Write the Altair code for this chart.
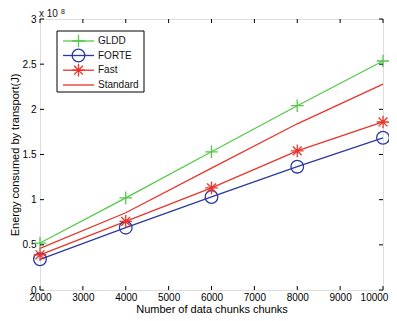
import altair as alt
import pandas as pd

# ---- data (energy in units of 1e8 J) ----
chunks = [2000, 4000, 6000, 8000, 10000]
gldd = [0.52, 1.02, 1.53, 2.04, 2.535]
forte = [0.34, 0.69, 1.03, 1.365, 1.685]
fast = [0.39, 0.76, 1.13, 1.54, 1.86]
standard = [0.46, 0.855, 1.35, 1.84, 2.28]

series_names = ["GLDD", "FORTE", "Fast", "Standard"]
series_colors = ["#55c84a", "#2b3a9e", "#e8342b", "#e8342b"]
x_ticks = [2000, 3000, 4000, 5000, 6000, 7000, 8000, 9000, 10000]
y_ticks = [0, 0.5, 1, 1.5, 2, 2.5, 3]

W, H = 343, 271
FONT = "Liberation Sans"

rows = []
for name, vals in zip(series_names, [gldd, forte, fast, standard]):
    for xv, yv in zip(chunks, vals):
        rows.append({"series": name, "chunks": xv, "energy": yv})
df = pd.DataFrame(rows)

xscale = alt.Scale(domain=[2000, 10000], nice=False, zero=False)
yscale = alt.Scale(domain=[0, 3], nice=False)
cscale = alt.Scale(domain=series_names, range=series_colors)

X = alt.X("chunks:Q", scale=xscale,
          axis=alt.Axis(values=x_ticks, format="d", ticks=False, domain=False, grid=False,
                        labelFlush=False, labelPadding=2,
                        labelOffset={"condition": {"test": "datum.value === 10000", "value": -9}, "value": 0},
                        title="Number of data chunks chunks", titleFontWeight="normal",
                        titleBaseline="alphabetic", titleY=22))
Y = alt.Y("energy:Q", scale=yscale,
          axis=alt.Axis(values=y_ticks, format="~g", ticks=False, domain=False, grid=False,
                        labelPadding=4, title="Energy consumed by transport(J)",
                        titleFontWeight="normal", titlePadding=2))

lines = alt.Chart(df).mark_line(strokeWidth=1.3).encode(
    x=X, y=Y, color=alt.Color("series:N", scale=cscale, legend=None), detail="series:N"
)

marker_paths = {
    "GLDD": "M-1,0H1M0,-1V1",
    "FORTE": "circle",
    "Fast": "M-1,0H1M0,-1V1M-0.7,-0.7L0.7,0.7M-0.7,0.7L0.7,-0.7",
}
mk_names = list(marker_paths.keys())
points = alt.Chart(df).transform_filter(
    alt.FieldOneOfPredicate(field="series", oneOf=mk_names)
).mark_point(filled=False, strokeWidth=1.3, size=160, opacity=1).encode(
    x=alt.X("chunks:Q", scale=xscale),
    y=alt.Y("energy:Q", scale=yscale),
    color=alt.Color("series:N", scale=cscale, legend=None),
    shape=alt.Shape("series:N", scale=alt.Scale(domain=mk_names, range=[marker_paths[n] for n in mk_names]),
                    legend=None),
)

# inward ticks (MATLAB style box)
xt = pd.DataFrame({"t": x_ticks})
yt = pd.DataFrame({"t": y_ticks})
tick_x_bottom = alt.Chart(xt).mark_rule(color="#000", strokeWidth=1).encode(
    x=alt.X("t:Q", scale=xscale), y=alt.value(H), y2=alt.value(H - 4))
tick_x_top = alt.Chart(xt).mark_rule(color="#000", strokeWidth=1).encode(
    x=alt.X("t:Q", scale=xscale), y=alt.value(0), y2=alt.value(4))
tick_y_left = alt.Chart(yt).mark_rule(color="#000", strokeWidth=1).encode(
    y=alt.Y("t:Q", scale=yscale), x=alt.value(0), x2=alt.value(4))
tick_y_right = alt.Chart(yt).mark_rule(color="#000", strokeWidth=1).encode(
    y=alt.Y("t:Q", scale=yscale), x=alt.value(W - 4), x2=alt.value(W))

# exponent label
exp_base = alt.Chart(pd.DataFrame({"s": ["x 10"]})).mark_text(
    font=FONT, fontSize=10, align="left", baseline="middle", color="#111").encode(
    text="s:N", x=alt.value(-1), y=alt.value(-5))
exp_pow = alt.Chart(pd.DataFrame({"s": ["8"]})).mark_text(
    font=FONT, fontSize=7, align="left", baseline="top", color="#111").encode(
    text="s:N", x=alt.value(21), y=alt.value(-11))

# legend (drawn manually to reproduce line+marker samples)
leg_box = alt.Chart(pd.DataFrame({"a": [0]})).mark_rect(
    fill="white", stroke="#000", strokeWidth=1).encode(
    x=alt.value(17), x2=alt.value(104), y=alt.value(12), y2=alt.value(73))
leg_y = [22, 36.5, 51.2, 66]
leg_layers = [leg_box]
for i, name in enumerate(series_names):
    col = series_colors[i]
    d = pd.DataFrame({"name": [name]})
    leg_layers.append(alt.Chart(d).mark_rule(color=col, strokeWidth=1.3).encode(
        x=alt.value(23), x2=alt.value(54), y=alt.value(leg_y[i])))
    if name in marker_paths:
        leg_layers.append(alt.Chart(d).mark_point(
            shape=marker_paths[name], filled=False, size=160, strokeWidth=1.3, color=col, opacity=1).encode(
            x=alt.value(38.5), y=alt.value(leg_y[i])))
    leg_layers.append(alt.Chart(d).mark_text(
        font=FONT, fontSize=10, align="left", baseline="middle", color="#111").encode(
        text="name:N", x=alt.value(58), y=alt.value(leg_y[i])))

chart = alt.layer(
    lines, points, tick_x_bottom, tick_x_top, tick_y_left, tick_y_right,
    exp_base, exp_pow, *leg_layers
).properties(
    width=W, height=H,
    autosize=alt.AutoSizeParams(type="none"),
    padding={"left": 32, "top": 11, "right": 6, "bottom": 23},
).configure_view(
    stroke="#000", strokeWidth=1.2
).configure_axis(
    labelFont=FONT, titleFont=FONT, labelFontSize=10, titleFontSize=10,
    labelColor="#111", titleColor="#111", titleFontWeight="normal"
).configure(background="white")

chart.save("out.html", embed_options={"renderer": "svg", "actions": False})
